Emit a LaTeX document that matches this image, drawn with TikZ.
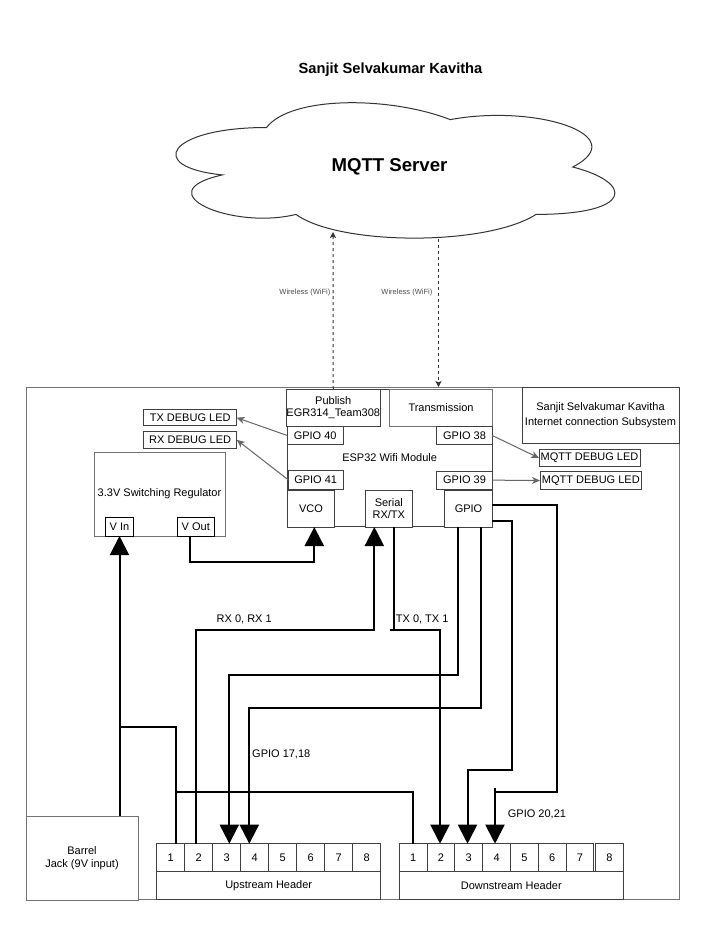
\documentclass[tikz,border=0pt]{standalone}
\usepackage{fontspec}
\setmainfont{Liberation Sans}
\usetikzlibrary{arrows.meta}
\newcommand\fsz{\fontsize{11}{12.7}\selectfont}
\begin{document}
\begin{tikzpicture}[x=1pt,y=-1pt,
  box/.style={draw=black!75, line width=1pt, fill=white, inner sep=0pt, outer sep=0pt, font=\fsz, align=center},
  lbox/.style={box, draw=black!55},
  sz/.style 2 args={minimum width=#1pt, minimum height=#2pt},
  wire/.style={draw=black, line width=2pt},
  wirearrow/.style={wire, -{Triangle[width=19pt,length=19pt]}},
  dbg/.style={draw=black!60, line width=1pt, -{Stealth[length=8pt,width=7pt,inset=2.5pt]}},
  wifi/.style={draw=black!80, line width=1pt, dash pattern=on 3pt off 3pt, -{Stealth[length=6pt,width=6pt,inset=1.5pt]}},
  wl/.style={font=\fontsize{7.5}{9}\selectfont, text=black!70, inner sep=0pt},
  lbl/.style={font=\fsz, inner sep=0pt, anchor=west}
]
\fill[white] (0,0) rectangle (724,927);
\useasboundingbox (0,0) rectangle (724,927);

% title
\node[font=\fontsize{14.7}{17}\selectfont\bfseries] (title) at (390.5,70) {Sanjit Selvakumar Kavitha};

% cloud
\draw[draw=black!80, line width=1pt, fill=white]
  (266.5,127.5) .. controls (168.5,127.5) and (144,167) .. (222.4,174.9)
  .. controls (144,192.3) and (232.2,230.2) .. (295.9,214.4)
  .. controls (340,246) and (487,246) .. (536,214.4)
  .. controls (634,214.4) and (634,182.8) .. (572.75,167)
  .. controls (634,135.4) and (536,103.8) .. (450.25,119.6)
  .. controls (389,95.9) and (291,95.9) .. (266.5,127.5) -- cycle;
\node[font=\fontsize{18.6}{22}\selectfont\bfseries] (mqtt) at (389.5,167) {MQTT Server};
\coordinate (cloudL) at (333,232);
\coordinate (cloudR) at (438.5,238.5);

% outer box
\node[lbox, fill=none, sz={653}{512}] (outer) at (352.5,643) {};

% info box
\node[box, sz={157}{56}, font=\fontsize{11}{14.6}\selectfont] (info) at (600.5,415) {Sanjit Selvakumar Kavitha\\Internet connection Subsystem};

% ESP32 module
\node[box, sz={205.3}{137.5}] (esp) at (389.65,457.75) {ESP32 Wifi Module};
\node[box, sz={94.5}{37}] (publish) at (333.25,407.5) {Publish\\EGR314\_Team308};
\node[lbox, sz={102.6}{37}] (trans) at (441,407.5) {Transmission};
\node[box, sz={55.7}{17.6}] (g40) at (315.15,435.5) {GPIO 40};
\node[box, sz={55.6}{17.6}] (g38) at (464.5,435.5) {GPIO 38};
\node[box, sz={54.7}{18.3}] (g41) at (315.65,479.85) {GPIO 41};
\node[box, sz={55.6}{17.7}] (g39) at (464.5,480.15) {GPIO 39};
\node[box, sz={47.4}{37}] (vco) at (311,508.5) {VCO};
\node[box, sz={47.7}{37}] (serial) at (388.85,508.5) {Serial\\RX/TX};
\node[box, sz={47.6}{37}] (gpio) at (468.5,508.5) {GPIO};

% LEDs
\node[box, sz={93}{16}] (txled) at (190.2,417.7) {TX DEBUG LED};
\node[box, sz={93}{17.7}] (rxled) at (190.2,439.85) {RX DEBUG LED};
\node[box, sz={101}{16.6}] (mq1) at (589.5,458) {MQTT DEBUG LED};
\node[box, sz={101.7}{17.6}] (mq2) at (590.85,480.5) {MQTT DEBUG LED};

% regulator
\node[lbox, sz={131}{84}] (reg) at (159.5,494) {3.3V Switching Regulator};
\node[box, draw=black, sz={28.4}{18.7}] (vin) at (119.5,526.65) {V In};
\node[box, draw=black, sz={37}{18.7}] (vout) at (195.8,526.65) {V Out};

% barrel jack
\node[lbox, sz={112}{84}] (barrel) at (82,858) {Barrel\\Jack (9V input)};

% headers
\foreach \i in {1,...,8} {
  \node[box, sz={28}{28}] (up\i) at ({156.7+28*(\i-1)+14},857.7) {\i};
}
\node[box, sz={224}{28}] (uphdr) at (268.7,885.7) {Upstream Header};
\foreach \i in {1,...,7} {
  \node[box, sz={27.8}{28}] (dn\i) at ({399.3+27.8*(\i-1)+13.9},857.7) {\i};
}
\node[box, sz={27.6}{28}] (dn8) at (609.5,857.7) {8};
\node[box, sz={224}{28}] (dnhdr) at (511.3,885.7) {Downstream Header};

% wireless links
\draw[wifi] (publish.north) -- (cloudL);
\draw[wifi] (cloudR) -- (cloudR |- outer.north);
\node[wl, anchor=east] (wl1) at (330.5,293) {Wireless (WiFi)};
\node[wl, anchor=east] (wl2) at (432.5,293) {Wireless (WiFi)};

% debug LED arrows
\draw[dbg] (g40.west) -- (txled.east);
\draw[dbg] (g41.west) -- (rxled.east);
\draw[dbg] (g38.east) -- (mq1.west);
\draw[dbg] (g39.east) -- (mq2.west);

% level coordinates
\coordinate (yRX) at (0,629.5);
\coordinate (yG1) at (0,675);
\coordinate (yG2) at (0,707.7);
\coordinate (yPW) at (0,726.7);
\coordinate (yG3) at (0,769.5);
\coordinate (yDP) at (0,791.7);
\coordinate (yG4) at (0,791.8);
\coordinate (yTick) at (0,787.7);
\coordinate (yVO) at (0,562.3);
\coordinate (xG3) at (511.7,0);
\coordinate (xG4) at (556.7,0);

% power
\draw[wirearrow] (vin.south |- barrel.north) -- (vin.south);
\coordinate (pw1) at ([xshift=5pt]up1.north);
\draw[wire] (vin.south |- yPW) -| (pw1);
\draw[wire] (pw1 |- yDP) -| (dn1.north);
\coordinate (voOut) at ([xshift=-5.8pt]vout.south);
\coordinate (vcoIn) at ([xshift=3.3pt]vco.south);
\draw[wirearrow] (voOut) -- (voOut |- yVO) -| (vcoIn);

% serial
\coordinate (rxA) at ([xshift=-3.2pt]up2.north);
\coordinate (rxB) at ([xshift=-14.5pt]serial.south);
\draw[wirearrow] (rxA) -- (rxA |- yRX) -| (rxB);
\coordinate (txA) at ([xshift=5.15pt]serial.south);
\coordinate (txB) at ([xshift=-1pt]dn2.north);
\path (txA |- yRX) coordinate (txM);
\coordinate (txStub) at ([xshift=-4pt]txM);
\draw[wire] (txA) -- (txM);
\draw[wirearrow] (txStub) -| (txB);

% GPIO lines
\coordinate (g1A) at ([xshift=-10.2pt]gpio.south);
\coordinate (g1B) at ([xshift=2.6pt]up3.north);
\draw[wirearrow] (g1A) -- (g1A |- yG1) -| (g1B);
\coordinate (g2A) at ([xshift=12.2pt]gpio.south);
\coordinate (g2B) at ([xshift=-5.4pt]up4.north);
\draw[wirearrow] (g2A) -- (g2A |- yG2) -| (g2B);
\coordinate (g3A) at ([yshift=-12.8pt]gpio.east);
\coordinate (g3B) at ([xshift=-1.3pt]dn3.north);
\draw[wirearrow] (g3A) -- (xG3 |- g3A) -- (xG3 |- yG3) -| (g3B);
\coordinate (g4A) at ([yshift=3.5pt]gpio.east);
\coordinate (g4B) at ([xshift=-1.6pt]dn4.north);
\draw[wirearrow] (g4A) -- (xG4 |- g4A) -- (xG4 |- yG4) -| (g4B);
\draw[wire] (g4B |- yTick) -- (g4B |- yG4);

% wire labels
\node[lbl] (rxl) at (216.5,619.3) {RX 0, RX 1};
\node[lbl] (txl) at (395.7,619) {TX 0, TX 1};
\node[lbl] (g1718) at (252,754) {GPIO 17,18};
\node[lbl] (g2021) at (507.7,814) {GPIO 20,21};
\end{tikzpicture}
\end{document}
